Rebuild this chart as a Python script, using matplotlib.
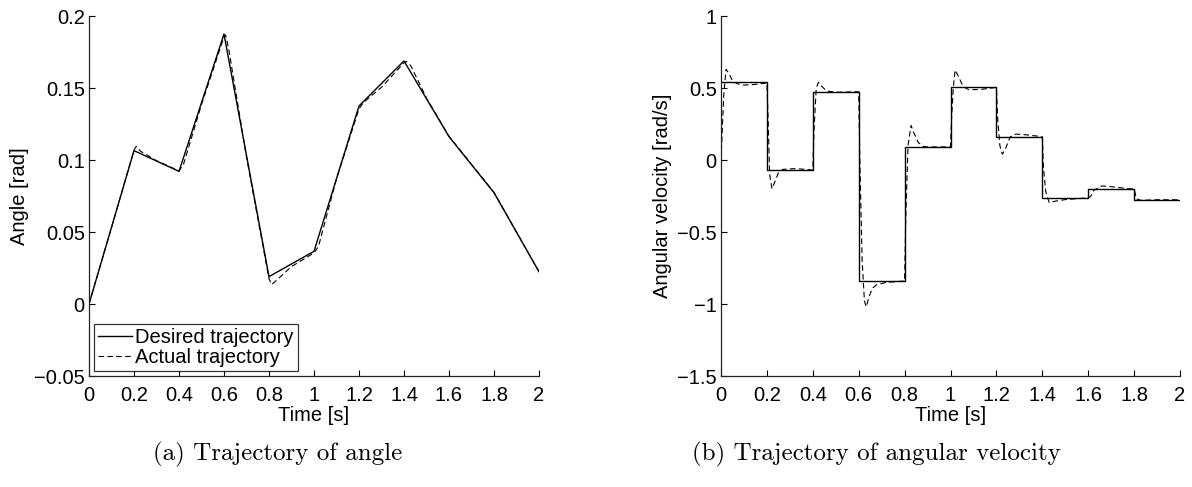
import numpy as np
import matplotlib
matplotlib.use('Agg')
import matplotlib.pyplot as plt
from matplotlib.ticker import FuncFormatter

plt.rcParams['font.family'] = ['Liberation Sans', 'DejaVu Sans']
plt.rcParams['axes.unicode_minus'] = True

# knot times and desired trajectory
t_knots = [0, 0.2, 0.4, 0.6, 0.8, 1.0, 1.2, 1.4, 1.6, 1.8, 2.0]
angle_desired = [0.0, 0.1065, 0.0921, 0.1875, 0.019, 0.0366, 0.1375, 0.1688, 0.1162, 0.0773, 0.0224]
vel_desired = [0.539, -0.072, 0.474, -0.84, 0.092, 0.504, 0.162, -0.262, -0.201, -0.276]

# measured angle
t_angle_act = [0, 0.1, 0.2, 0.21, 0.23, 0.3, 0.4, 0.42, 0.5, 0.6, 0.607, 0.62, 0.7, 0.8,
               0.812, 0.83, 0.9, 1.0, 1.02, 1.1, 1.2, 1.22, 1.3, 1.4, 1.41, 1.43, 1.5,
               1.6, 1.7, 1.8, 1.9, 2.0]
angle_act = [0.0, 0.053, 0.107, 0.1095, 0.106, 0.0995, 0.0925, 0.097, 0.1385, 0.1855, 0.1868,
             0.178, 0.102, 0.0175, 0.0135, 0.016, 0.026, 0.0355, 0.040, 0.087, 0.1355, 0.140,
             0.1505, 0.1675, 0.1685, 0.1655, 0.143, 0.1165, 0.097, 0.0775, 0.050, 0.0224]

# measured angular velocity
t_vel_act = [0.0, 0.012, 0.022, 0.035, 0.05, 0.07, 0.1, 0.15, 0.2, 0.205, 0.212, 0.222, 0.235,
             0.25, 0.27, 0.32, 0.37, 0.4, 0.405, 0.415, 0.425, 0.44, 0.46, 0.5, 0.6, 0.605,
             0.615, 0.625, 0.633, 0.645, 0.66, 0.68, 0.72, 0.8, 0.805, 0.815, 0.828, 0.84,
             0.86, 0.885, 0.95, 1.0, 1.005, 1.012, 1.02, 1.035, 1.055, 1.08, 1.13, 1.2,
             1.205, 1.215, 1.226, 1.24, 1.26, 1.285, 1.33, 1.4, 1.405, 1.415, 1.43, 1.46,
             1.5, 1.58, 1.6, 1.61, 1.625, 1.66, 1.7, 1.78, 1.8, 1.81, 1.83, 1.9, 2.0]
vel_act = [0.0, 0.45, 0.63, 0.60, 0.55, 0.53, 0.52, 0.525, 0.535, 0.3, -0.1, -0.2, -0.15,
           -0.09, -0.065, -0.06, -0.065, -0.07, 0.2, 0.5, 0.54, 0.51, 0.48, 0.47, 0.474, 0.0,
           -0.7, -0.98, -1.02, -0.95, -0.89, -0.865, -0.85, -0.84, -0.4, 0.1, 0.24, 0.19,
           0.12, 0.092, 0.09, 0.092, 0.3, 0.5, 0.625, 0.58, 0.51, 0.488, 0.49, 0.504,
           0.3, 0.1, 0.04, 0.08, 0.16, 0.18, 0.175, 0.162, -0.05, -0.22, -0.295, -0.285,
           -0.275, -0.265, -0.262, -0.255, -0.21, -0.18, -0.185, -0.2, -0.2, -0.27, -0.28,
           -0.276, -0.276]

xticks = [0, 0.2, 0.4, 0.6, 0.8, 1, 1.2, 1.4, 1.6, 1.8, 2]
fmt = FuncFormatter(lambda v, p: ('%g' % round(v, 4)).replace('-', '\u2212'))
fs = 14.5

fig = plt.figure(figsize=(11.92, 4.87), dpi=100)
ax1 = fig.add_axes([89 / 1192, 111 / 487, 450 / 1192, 360 / 487])
ax2 = fig.add_axes([721 / 1192, 111 / 487, 459 / 1192, 360 / 487])

lw = 1.0
ax1.plot(t_knots, angle_desired, color='black', lw=lw, label='Desired trajectory')
ax1.plot(t_angle_act, angle_act, color='black', lw=lw * 0.8, dashes=(5, 3),
         label='Actual trajectory')
ax1.set_ylim(-0.05, 0.2)
ax1.set_yticks([-0.05, 0, 0.05, 0.1, 0.15, 0.2])
ax1.set_ylabel('Angle [rad]', fontsize=fs, labelpad=4)

vel_step = vel_desired + [vel_desired[-1]]
ax2.step(t_knots, vel_step, where='post', color='black', lw=lw)
ax2.plot(t_vel_act, vel_act, color='black', lw=lw * 0.8, dashes=(5, 3))
ax2.set_ylim(-1.5, 1)
ax2.set_yticks([-1.5, -1, -0.5, 0, 0.5, 1])
ax2.set_ylabel('Angular velocity [rad/s]', fontsize=fs, labelpad=4)

for ax in (ax1, ax2):
    ax.set_xlim(0, 2)
    ax.set_xticks(xticks)
    ax.xaxis.set_major_formatter(fmt)
    ax.yaxis.set_major_formatter(fmt)
    ax.spines['top'].set_visible(False)
    ax.spines['right'].set_visible(False)
    for s in ('left', 'bottom'):
        ax.spines[s].set_linewidth(0.9)
        ax.spines[s].set_color('#222222')
    ax.tick_params(direction='in', length=4, width=0.8, labelsize=fs)
    ax.tick_params(axis='x', pad=7)
    ax.tick_params(axis='y', pad=3)
    ax.set_xlabel('Time [s]', fontsize=fs, labelpad=1)

leg = ax1.legend(loc='lower left', fontsize=fs, frameon=True, fancybox=False,
                 edgecolor='black', handlelength=1.7, handletextpad=0.15,
                 borderpad=0.2, labelspacing=0.05, borderaxespad=0.25)
leg.get_frame().set_linewidth(0.9)

fig.text(0.233, 0.066, '(a) Trajectory of angle', family='cmr10', fontsize=18,
         ha='center', va='center')
fig.text(0.735, 0.066, '(b) Trajectory of angular velocity', family='cmr10',
         fontsize=18, ha='center', va='center')

fig.savefig('out.png', dpi=100)
